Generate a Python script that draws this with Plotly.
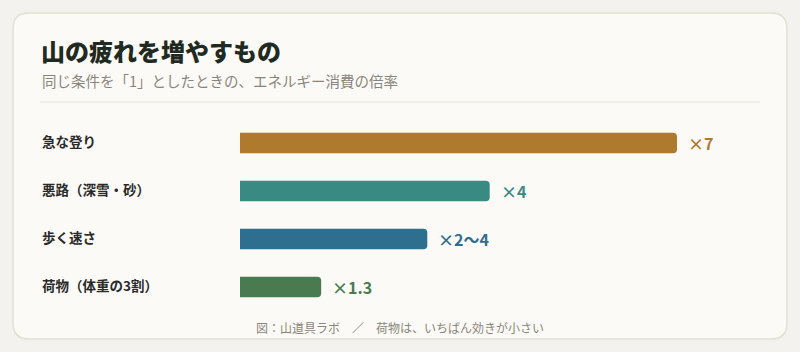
import plotly.graph_objects as go

# ---- data ----
categories = ["急な登り", "悪路（深雪・砂）", "歩く速さ", "荷物（体重の3割）"]
values = [7, 4, 3, 1.3]
value_labels = ["×7", "×4", "×2〜4", "×1.3"]
colors = ["#B07A2E", "#3A8A84", "#2E6E8E", "#4A7A50"]

title_text = "山の疲れを増やすもの"
subtitle_text = "同じ条件を「1」としたときの、エネルギー消費の倍率"
footer_text = "図：山道具ラボ　／　荷物は、いちばん効きが小さい"

# ---- layout geometry (pixels) ----
W, H = 800, 352
L, R, T, B = 240, 40, 119, 41
PW, PH = W - L - R, H - T - B

def px(x):
    return (x - L) / PW

def py(y):
    return (H - B - y) / PH

FONT = "Noto Sans CJK JP"

fig = go.Figure()
fig.add_trace(go.Bar(
    x=values, y=categories, orientation="h",
    marker=dict(color=colors, line=dict(width=0)),
    hoverinfo="skip",
))

# card with rounded corners
x0, y0, x1, y1, r = 13, 13, 787, 339, 16
def P(x, y):
    return f"{px(x):.5f},{py(y):.5f}"
card = (f"M {P(x0 + r, y0)} L {P(x1 - r, y0)} Q {P(x1, y0)} {P(x1, y0 + r)} "
        f"L {P(x1, y1 - r)} Q {P(x1, y1)} {P(x1 - r, y1)} "
        f"L {P(x0 + r, y1)} Q {P(x0, y1)} {P(x0, y1 - r)} "
        f"L {P(x0, y0 + r)} Q {P(x0, y0)} {P(x0 + r, y0)} Z")
fig.add_shape(type="path", path=card, xref="paper", yref="paper",
              fillcolor="#FBFAF6", line=dict(color="#E4DFD3", width=1.5), layer="below")
# divider
fig.add_shape(type="line", xref="paper", yref="paper",
              x0=px(40), x1=px(760), y0=py(102), y1=py(102),
              line=dict(color="#E6E1D6", width=1), layer="below")

annotations = []
annotations.append(dict(text=title_text, xref="paper", yref="paper",
                        x=px(39), y=py(51), xanchor="left", yanchor="middle", showarrow=False,
                        font=dict(family=FONT, size=24, weight=900, color="#1F2A22")))
annotations.append(dict(text=subtitle_text, xref="paper", yref="paper",
                        x=px(40), y=py(80), xanchor="left", yanchor="middle", showarrow=False,
                        font=dict(family=FONT, size=14.5, color="#8A857A")))
annotations.append(dict(text=footer_text, xref="paper", yref="paper",
                        x=px(400), y=py(327), xanchor="center", yanchor="middle", showarrow=False,
                        font=dict(family=FONT, size=12, color="#8A857A")))
for cat, v, lab, c in zip(categories, values, value_labels, colors):
    annotations.append(dict(text=f"<b>{cat}</b>", xref="paper", yref="y",
                            x=px(40), y=cat, xanchor="left", yanchor="middle", showarrow=False,
                            yshift=2, font=dict(family=FONT, size=13.5, color="#2A2A2A")))
    annotations.append(dict(text=f"<b>{lab}</b>", xref="x", yref="y",
                            x=v, y=cat, xanchor="left", yanchor="middle", showarrow=False,
                            xshift=9, font=dict(family=FONT, size=16, color=c)))

fig.update_layout(
    width=W, height=H,
    margin=dict(l=L, r=R, t=T, b=B),
    paper_bgcolor="#F3F2EE",
    plot_bgcolor="rgba(0,0,0,0)",
    showlegend=False,
    bargap=0.57,
    barcornerradius=4,
    xaxis=dict(range=[0, 7 * PW / 437], visible=False, fixedrange=True),
    yaxis=dict(categoryorder="array", categoryarray=categories, autorange="reversed",
               visible=False, fixedrange=True),
    annotations=annotations,
    font=dict(family=FONT),
)

fig.write_html("out.html", config={"displayModeBar": False})
